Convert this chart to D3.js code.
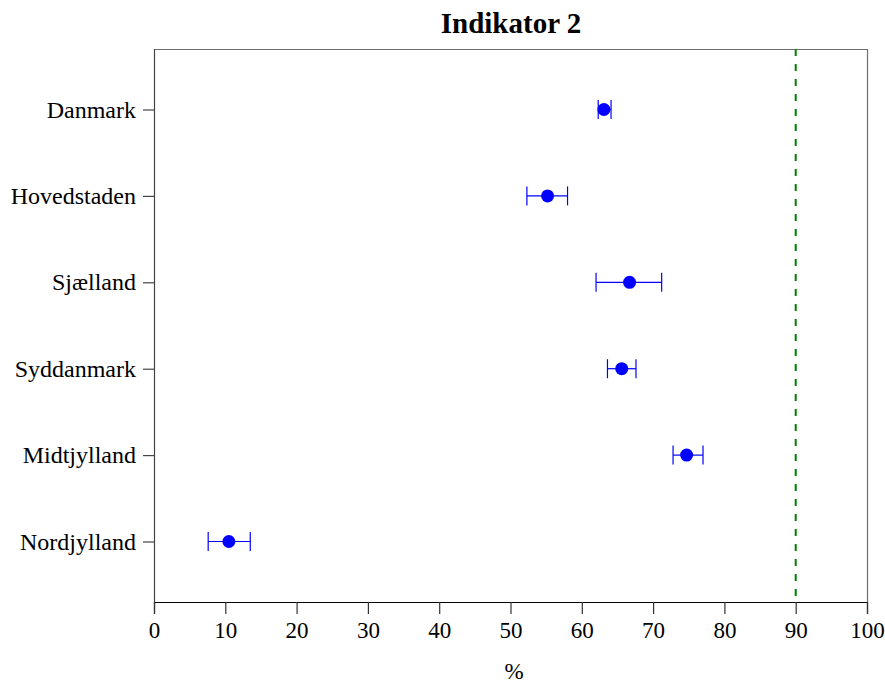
<!DOCTYPE html>
<html><head><meta charset="utf-8">
<script src="https://cdn.jsdelivr.net/npm/d3@7"></script>
<style>body{margin:0;background:#fff}svg{display:block}</style>
</head><body>
<svg id="c" width="885" height="684"></svg>
<script>
const categories = ["Danmark","Hovedstaden","Sjælland","Syddanmark","Midtjylland","Nordjylland"];
const estimates = [63.1, 55.2, 66.7, 65.6, 74.7, 10.5];
const lowerCI   = [62.3, 52.3, 62.0, 63.6, 72.8, 7.6];
const upperCI   = [64.1, 58.0, 71.2, 67.6, 77.0, 13.5];
const xTicks = [0,10,20,30,40,50,60,70,80,90,100];
const targetValue = 90;
const title = "Indikator 2";
const xLabel = "%";

const svg = d3.select("#c");
const m = {l:154, r:867, t:49, b:602};
const font = "'Liberation Serif','Times New Roman',serif";
const x = d3.scaleLinear().domain([0,100]).range([m.l, m.r]);
const y = d3.scaleLinear().domain([0.3, 6.7]).range([m.t, m.b]);
const data = categories.map((c,i)=>({c, i:i+1, v:estimates[i], lo:lowerCI[i], hi:upperCI[i]}));

// frame top/right
svg.append("line").attr("x1",m.l).attr("x2",m.r).attr("y1",m.t+0.5).attr("y2",m.t+0.5).attr("stroke","#6e6e6e").attr("stroke-width",1.2);
svg.append("line").attr("x1",m.r+0.5).attr("x2",m.r+0.5).attr("y1",m.t).attr("y2",m.b).attr("stroke","#6e6e6e").attr("stroke-width",1.2);

// x axis
const gx = svg.append("g").attr("transform",`translate(0,${m.b})`)
  .call(d3.axisBottom(x).tickValues(xTicks).tickSize(12).tickPadding(8).tickFormat(d3.format("d")));
gx.select(".domain").attr("stroke","#000").attr("stroke-width",1.2);
gx.selectAll(".tick line").attr("stroke","#333").attr("stroke-width",1.2);
gx.selectAll("text").attr("font-family",font).attr("font-size",23).attr("fill","#000");

// y axis
const gy = svg.append("g").attr("transform",`translate(${m.l},0)`)
  .call(d3.axisLeft(y).tickValues(data.map(d=>d.i)).tickFormat(d=>categories[d-1]).tickSize(11).tickPadding(7));
gy.select(".domain").attr("stroke","#444").attr("stroke-width",1.2).attr("d",`M0.5,${m.t}V${m.b}`);
gy.selectAll(".tick line").attr("stroke","#444").attr("stroke-width",1.2);
gy.selectAll("text").attr("font-family",font).attr("font-size",24).attr("fill","#000");

// target line
svg.append("line").attr("x1",x(targetValue)).attr("x2",x(targetValue)).attr("y1",m.t).attr("y2",m.b)
  .attr("stroke","#008000").attr("stroke-width",2).attr("stroke-dasharray","7,8");

// error bars
const g = svg.append("g");
g.selectAll("line.eb").data(data).join("line").attr("class","eb")
  .attr("x1",d=>x(d.lo)).attr("x2",d=>x(d.hi)).attr("y1",d=>y(d.i)).attr("y2",d=>y(d.i))
  .attr("stroke","#0000ff").attr("stroke-width",1.2);
g.selectAll("line.cl").data(data).join("line").attr("class","cl")
  .attr("x1",d=>x(d.lo)).attr("x2",d=>x(d.lo)).attr("y1",d=>y(d.i)-9.5).attr("y2",d=>y(d.i)+9.5)
  .attr("stroke","#0000ff").attr("stroke-width",1.2);
g.selectAll("line.ch").data(data).join("line").attr("class","ch")
  .attr("x1",d=>x(d.hi)).attr("x2",d=>x(d.hi)).attr("y1",d=>y(d.i)-9.5).attr("y2",d=>y(d.i)+9.5)
  .attr("stroke","#0000ff").attr("stroke-width",1.2);
g.selectAll("circle").data(data).join("circle")
  .attr("cx",d=>x(d.v)).attr("cy",d=>y(d.i)).attr("r",6.5).attr("fill","#0000ff");

// title
svg.append("text").attr("x",511).attr("y",33).attr("text-anchor","middle")
  .attr("font-family",font).attr("font-weight","bold").attr("font-size",29).text(title);
// x label
svg.append("text").attr("x",514).attr("y",679).attr("text-anchor","middle")
  .attr("font-family",font).attr("font-size",23).text(xLabel);
</script>
</body></html>
